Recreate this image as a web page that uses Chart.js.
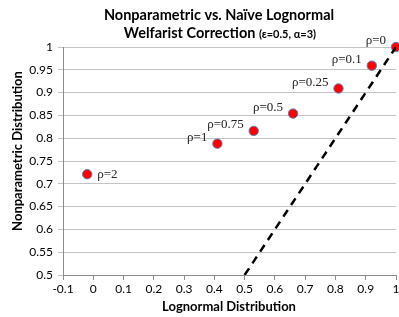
<!DOCTYPE html>
<html>
<head>
<meta charset="utf-8">
<script src="https://cdn.jsdelivr.net/npm/chart.js@4"></script>
<style>
  html, body { margin: 0; padding: 0; background: #fff; }
  #wrap { width: 399px; height: 317px; position: relative; }
</style>
</head>
<body>
<div id="wrap"><canvas id="c"></canvas></div>
<script>
// valeurs
const rhoLabels = ["ρ=2", "ρ=1", "ρ=0.75", "ρ=0.5", "ρ=0.25", "ρ=0.1", "ρ=0"]
const lognormalX = [-0.02, 0.41, 0.53, 0.66, 0.81, 0.92, 1.0]
const nonparamY = [0.721, 0.788, 0.816, 0.854, 0.909, 0.959, 1.0]
const diagX = [0.5, 1]
const diagY = [0.5, 1]
const xTickValues = [-0.1, 0, 0.1, 0.2, 0.3, 0.4, 0.5, 0.6, 0.7, 0.8, 0.9, 1]
const yTickValues = [0.5, 0.55, 0.6, 0.65, 0.7, 0.75, 0.8, 0.85, 0.9, 0.95, 1]

const fmt = v => String(Number(v.toFixed(2)))

// texte : titre + titres des axes
const textPlugin = {
    id: "texts",
    afterDraw(chart) {
        const ctx = chart.ctx
        ctx.save()
        ctx.fillStyle = "#000"
        ctx.textBaseline = "middle"
        ctx.textAlign = "center"
        ctx.font = "bold 14.5px Lato"
        ctx.fillText("Nonparametric vs. Naïve Lognormal", 219, 15)

        const a = "Welfarist Correction "
        const b = "(ε=0.5, α=3)"
        ctx.font = "bold 14.5px Lato"
        const wa = ctx.measureText(a).width
        ctx.font = "bold 11px Lato"
        const wb = ctx.measureText(b).width
        let x0 = 220 - (wa + wb) / 2
        ctx.textAlign = "left"
        ctx.font = "bold 14.5px Lato"
        ctx.fillText(a, x0, 33)
        ctx.font = "bold 11px Lato"
        ctx.fillText(b, x0 + wa, 34)

        ctx.textAlign = "center"
        ctx.font = "bold 13px Lato"
        ctx.fillText("Lognormal Distribution", 229, 307)
        ctx.translate(18, 151)
        ctx.rotate(-Math.PI / 2)
        ctx.fillText("Nonparametric Distribution", 0, 0)
        ctx.restore()
    },
}

// étiquettes rho à côté des points
const rhoPlugin = {
    id: "rho",
    afterDatasetsDraw(chart) {
        const meta = chart.getDatasetMeta(0)
        const ctx = chart.ctx
        ctx.save()
        ctx.font = "13px 'Liberation Serif'"
        ctx.fillStyle = "#222"
        ctx.textBaseline = "middle"
        meta.data.forEach((pt, i) => {
            if (i === 0) {
                ctx.textAlign = "left"
                ctx.fillText(rhoLabels[i], pt.x + 10, pt.y)
            } else {
                ctx.textAlign = "right"
                ctx.fillText(rhoLabels[i], pt.x - 10, pt.y - 6)
            }
        })
        ctx.restore()
    },
}

new Chart(document.getElementById("c"), {
    type: "scatter",
    data: {
        datasets: [
            {
                data: lognormalX.map((x, i) => ({ x, y: nonparamY[i] })),
                backgroundColor: "#ff0000",
                borderColor: "#5a7dbd",
                borderWidth: 1,
                pointRadius: 4.7,
                clip: false,
                order: 1,
            },
            {
                type: "line",
                data: diagX.map((x, i) => ({ x, y: diagY[i] })),
                borderColor: "#000",
                borderWidth: 2.5,
                borderDash: [8, 6],
                pointRadius: 0,
                fill: false,
                order: 0,
            },
        ],
    },
    options: {
        responsive: true,
        maintainAspectRatio: false,
        animation: false,
        layout: { autoPadding: false, padding: { top: 47, right: 3, left: 0, bottom: 0 } },
        plugins: { legend: { display: false }, tooltip: { enabled: false } },
        scales: {
            x: {
                type: "linear",
                min: -0.1,
                max: 1,
                afterBuildTicks: s => { s.ticks = xTickValues.map(v => ({ value: v })) },
                afterFit: s => { s.height = 42; s.paddingRight = 0; s.paddingLeft = 0 },
                grid: { drawOnChartArea: false, tickLength: 5, color: "#8c8c8c" },
                border: { color: "#8c8c8c" },
                ticks: { callback: v => fmt(v), color: "#000", font: { family: "Lato", size: 12 }, padding: 2, maxRotation: 0, autoSkip: false },
            },
            y: {
                min: 0.5,
                max: 1,
                afterBuildTicks: s => { s.ticks = yTickValues.map(v => ({ value: v })) },
                afterFit: s => { s.width = 63; s.paddingTop = 0; s.paddingBottom = 0 },
                grid: { color: "#c4c4c4", tickLength: 5 },
                border: { color: "#8c8c8c" },
                ticks: { callback: v => fmt(v), color: "#000", font: { family: "Lato", size: 12 }, padding: 5, autoSkip: false },
            },
        },
    },
    plugins: [textPlugin, rhoPlugin],
})
</script>
</body>
</html>
